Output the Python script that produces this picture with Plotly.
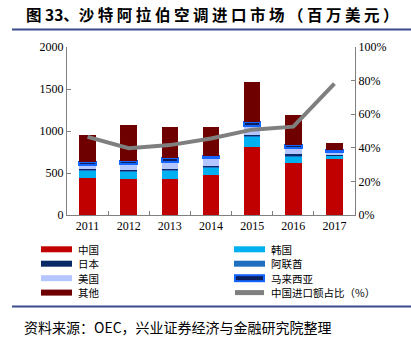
import plotly.graph_objects as go

years = ["2011", "2012", "2013", "2014", "2015", "2016", "2017"]
china = [440, 424, 432, 476, 805, 622, 666]
korea = [95, 95, 95, 90, 135, 72, 45]
uae = [10, 10, 10, 8, 10, 12, 3]
japan = [6, 6, 6, 6, 8, 16, 3]
usa = [45, 70, 90, 100, 100, 75, 28]
malaysia = [34, 40, 40, 18, 46, 36, 24]
other = [322, 430, 374, 349, 482, 352, 88]
china_share = [46.5, 39.8, 41.6, 45.5, 50.8, 52.6, 78.2]
share_name = "中国进口额占比（%）"

series = [
    ("中国", china, "#C00000"),
    ("韩国", korea, "#00B0F0"),
    ("阿联酋", uae, "#1F6FC0"),
    ("日本", japan, "#0A2A66"),
    ("美国", usa, "#B4C6FF"),
    ("马来西亚", malaysia, "#0A1F5C"),
    ("其他", other, "#6E0000"),
]
legend_order = ["中国", "韩国", "日本", "阿联酋", "美国", "马来西亚", "其他", share_name]
colors = {n: c for n, _, c in series}
colors[share_name] = "#7F7F7F"
MALAY_EDGE = "#1464FF"

fig = go.Figure()
for name, vals, col in series:
    line = dict(width=0)
    if name == "马来西亚":
        line = dict(width=2, color=MALAY_EDGE)
    fig.add_trace(go.Bar(x=years, y=vals, name=name, marker=dict(color=col, line=line),
                         width=0.4, showlegend=False))

fig.add_trace(go.Scatter(x=years, y=china_share, yaxis="y2", mode="lines",
                         line=dict(color="#7F7F7F", width=4), showlegend=False,
                         name=share_name))

W, H = 411, 341
L, R, T, B = 67, 56, 47, 126
PW, PH = W - L - R, H - T - B


def px(x):
    return (x - L) / PW


def py(y):
    return (H - B - y) / PH


axis_col = "#808080"
tickfont = dict(family="Liberation Serif", size=12, color="#000")
fig.update_layout(
    width=W, height=H,
    margin=dict(l=L, r=R, t=T, b=B, autoexpand=False),
    paper_bgcolor="white", plot_bgcolor="white",
    barmode="stack",
    showlegend=False,
    xaxis=dict(type="category", showline=True, linecolor=axis_col, linewidth=1,
               ticks="inside", tickson="boundaries", ticklen=4, tickcolor=axis_col,
               tickfont=tickfont, showgrid=False, zeroline=False),
    yaxis=dict(range=[0, 2000], dtick=500, showline=True, linecolor=axis_col, linewidth=1,
               ticks="inside", ticklen=4, tickcolor=axis_col, tickfont=tickfont,
               showgrid=False, zeroline=False),
    yaxis2=dict(range=[0, 100], dtick=20, overlaying="y", side="right", showline=True,
                linecolor=axis_col, linewidth=1, ticks="inside", ticklen=4,
                tickcolor=axis_col, tickfont=tickfont, ticksuffix="%",
                showgrid=False, zeroline=False),
)

# manual two-column legend
row_y = [249.3, 263.7, 278.2, 292.6]
col_x = [41, 234]
for i, name in enumerate(legend_order):
    cx = col_x[i % 2]
    ry = row_y[i // 2]
    col = colors[name]
    if name == "马来西亚":
        fig.add_shape(type="line", xref="paper", yref="paper", x0=px(cx), x1=px(cx + 31),
                      y0=py(ry), y1=py(ry), line=dict(color=MALAY_EDGE, width=8))
        fig.add_shape(type="line", xref="paper", yref="paper", x0=px(cx + 2), x1=px(cx + 29),
                      y0=py(ry), y1=py(ry), line=dict(color="#0A1F5C", width=4))
    elif name == share_name:
        fig.add_shape(type="line", xref="paper", yref="paper", x0=px(cx + 1), x1=px(cx + 30),
                      y0=py(ry), y1=py(ry), line=dict(color=col, width=5))
    else:
        fig.add_shape(type="line", xref="paper", yref="paper", x0=px(cx), x1=px(cx + 31),
                      y0=py(ry), y1=py(ry), line=dict(color=col, width=6))
    fig.add_annotation(text=name, xref="paper", yref="paper", x=px(cx + 35), y=py(ry),
                       xanchor="left", yanchor="middle", showarrow=False,
                       font=dict(family="Noto Sans CJK SC", size=10.5, color="#000"))

title = "图 33、沙 特 阿 拉 伯 空 调 进 口 市 场 （ 百 万 美 元 ）"
fig.add_annotation(text="<b>" + title + "</b>", xref="paper", yref="paper",
                   x=px(24), y=py(13.5), xanchor="left", yanchor="middle",
                   showarrow=False, font=dict(family="Noto Sans CJK SC", size=15.5, color="#000"))
fig.add_annotation(text="资料来源：OEC，兴业证券经济与金融研究院整理", xref="paper", yref="paper",
                   x=px(22), y=py(326.5), xanchor="left", yanchor="middle",
                   showarrow=False, font=dict(family="Noto Sans CJK SC", size=14, color="#000"))

for ypix in (29.5, 306.5):
    fig.add_shape(type="line", xref="paper", yref="paper",
                  x0=px(12), x1=px(411), y0=py(ypix), y1=py(ypix),
                  line=dict(color="#3B4A8A", width=2))

fig.write_html("out.html")
